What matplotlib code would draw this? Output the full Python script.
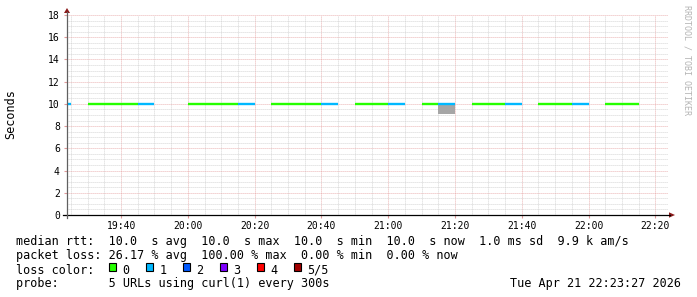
import numpy as np
import pandas as pd
import matplotlib
matplotlib.use("Agg")
import matplotlib.pyplot as plt
import matplotlib.dates as mdates
from matplotlib.ticker import MultipleLocator
from matplotlib.patches import Rectangle, Polygon
from matplotlib.lines import Line2D

plt.rcParams['font.family'] = ['DejaVu Sans Mono']

W, H = 697, 297

# 5 minute steps (start of each step)
bin_start = pd.date_range("2026-04-21 19:20", "2026-04-21 22:15", freq="5min")
# lost pings out of 5 per step, None = nothing drawn
loss = [1, None, 0, 0, 0, 1, None, None,
        0, 0, 0, 1, None, 0, 0, 0, 1, None, 0, 0,
        1, None, 0, 1, None, 0, 0, 1, None, 0, 0, 1,
        None, 0, 0, None]
# median rtt in seconds
median = [10.0, None, 10.0, 10.0, 10.0, 10.0, None, None,
          10.0, 10.0, 10.0, 10.0, None, 10.0, 10.0, 10.0, 10.0, None, 10.0, 10.0,
          10.0, None, 10.0, 10.0, None, 10.0, 10.0, 10.0, None, 10.0, 10.0, 10.0,
          None, 10.0, 10.0, None]

# smoke (spread of rtts)
smoke_start = [pd.Timestamp("2026-04-21 21:15")]
smoke_lo = [9.1]
smoke_hi = [10.0]

loss_colors = ['#26ff00', '#00b8ff', '#0059ff', '#7e00ff', '#ff0000', '#a10000']
loss_labels = ['0', '1', '2', '3', '4', '5/5']

t_start = pd.Timestamp("2026-04-21 19:23:48")
t_end = pd.Timestamp("2026-04-21 22:23:48")
step = pd.Timedelta(minutes=5)

fig = plt.figure(figsize=(W / 100, H / 100), dpi=100)
ax = fig.add_axes([67 / W, (H - 215) / H, 601 / W, 200 / H])

# smoke
for s, lo, hi in zip(smoke_start, smoke_lo, smoke_hi):
    ax.bar(s, hi - lo, bottom=lo, width=step / pd.Timedelta(days=1), align='edge',
           color='#a6a6a6', linewidth=0, zorder=2)

# median line coloured by loss
for s, l, m in zip(bin_start, loss, median):
    if m is None:
        continue
    ax.hlines(m, s, s + step, colors=loss_colors[l], linewidth=1.7,
              capstyle='butt', zorder=3)

ax.set_xlim(t_start, t_end)
ax.set_ylim(0, 18)

ax.xaxis.set_major_locator(mdates.MinuteLocator(byminute=[0, 20, 40]))
ax.xaxis.set_minor_locator(mdates.MinuteLocator(byminute=range(0, 60, 5)))
ax.xaxis.set_major_formatter(mdates.DateFormatter('%H:%M'))
ax.yaxis.set_major_locator(MultipleLocator(2))
ax.yaxis.set_minor_locator(MultipleLocator(0.5))

ax.set_axisbelow(True)
ax.grid(which='minor', color='#c8c8c8', linestyle=(0, (1, 1.4)), linewidth=0.6)
ax.grid(which='major', color='#e49a9a', linestyle=(0, (1, 1.4)), linewidth=0.6)

ax.tick_params(axis='both', which='major', labelsize=7, colors='#000000')
ax.tick_params(axis='x', which='major', length=2, pad=2.2, color='#e09a9a')
ax.tick_params(axis='y', which='major', length=2.2, pad=3.0, color='#e09a9a')
ax.tick_params(which='minor', length=0)
for sp in ax.spines.values():
    sp.set_visible(False)


def f(x, y):
    return (x / W, 1 - y / H)


# axes lines and arrows
fig.add_artist(Line2D(*zip(f(63, 215), f(670, 215)), transform=fig.transFigure,
                      color='black', linewidth=0.9))
fig.add_artist(Line2D(*zip(f(67, 218), f(67, 12)), transform=fig.transFigure,
                      color='#606060', linewidth=0.9))
fig.add_artist(Polygon([f(64, 13), f(70, 13), f(67, 8)], closed=True,
                       transform=fig.transFigure, color='#8b1a1a', linewidth=0))
fig.add_artist(Polygon([f(669, 212.3), f(669, 217.7), f(675, 215)], closed=True,
                       transform=fig.transFigure, color='#8b1a1a', linewidth=0))

fig.text(11 / W, 1 - 114 / H, "Seconds", rotation=90, ha='center', va='center',
         fontsize=8.5)
fig.text(687 / W, 1 - 5 / H, "RRDTOOL / TOBI OETIKER", rotation=-90, ha='center',
         va='top', fontsize=6, color='#b4b4b4')

fs = 8.45
fig.text(*f(16, 245.5), "median rtt:  10.0  s avg  10.0  s max  10.0  s min  10.0  s now  1.0 ms sd  9.9 k am/s",
         fontsize=fs, va='baseline')
fig.text(*f(16, 259.5), "packet loss: 26.17 % avg  100.00 % max  0.00 % min  0.00 % now",
         fontsize=fs, va='baseline')
fig.text(*f(16, 273.5), "loss color:", fontsize=fs, va='baseline')
for i, (c, lab) in enumerate(zip(loss_colors, loss_labels)):
    x0 = 108.7 + 37 * i
    fig.add_artist(Rectangle(f(x0, 271), 7.5 / W, 8 / H, transform=fig.transFigure,
                             facecolor=c, edgecolor='black', linewidth=0.8))
    fig.text(*f(x0 + 13.5, 273.5), lab, fontsize=fs, va='baseline')
fig.text(*f(16, 287.5), "probe:       5 URLs using curl(1) every 300s",
         fontsize=fs, va='baseline')
fig.text(*f(681, 287.5), "Tue Apr 21 22:23:27 2026", fontsize=fs, va='baseline',
         ha='right')

fig.savefig("out.png", dpi=100)
